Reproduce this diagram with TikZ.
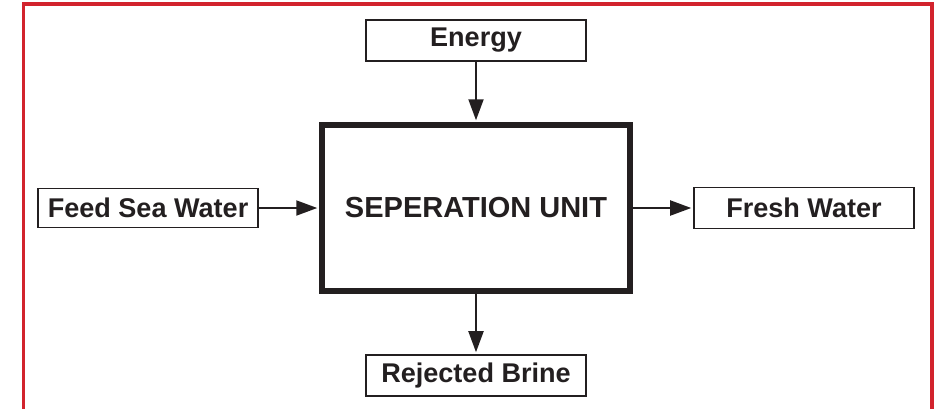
\documentclass[tikz,border=0pt]{standalone}
\usepackage{fontspec}
\setmainfont{Liberation Sans}
\usepackage{xcolor}
\usepackage{tikz}
\usetikzlibrary{arrows.meta,positioning}
\definecolor{ink}{HTML}{231F20}
\definecolor{framered}{HTML}{D2232D}
\tikzset{
  flowbox/.style={
    draw=ink,
    line width=1.1pt,
    fill=white,
    minimum width=4.4cm,
    minimum height=0.82cm,
    inner sep=0pt,
    align=center,
    text=ink,
    font=\bfseries\fontsize{15.4}{18}\selectfont
  },
  unitbox/.style={
    draw=ink,
    line width=3.4pt,
    fill=white,
    minimum width=6.16cm,
    minimum height=3.32cm,
    align=center,
    text=ink,
    font=\bfseries\fontsize{16.5}{19}\selectfont
  },
  flowarrow/.style={-{Triangle[length=0.42cm,width=0.3cm]}, line width=1.1pt, draw=ink, shorten >=1pt},
  frameline/.style={draw=framered, line width=1.8pt}
}

\begin{document}
\begin{tikzpicture}[node distance=1.2cm and 1.2cm]
  \useasboundingbox (0,0) rectangle (18.68,-8.16);

  \draw[frameline] (0.47,-8.3) |- (18.64,-0.08) -- (18.64,-8.3);

  \node[unitbox] (unit) at (9.52,-4.16) {SEPERATION UNIT};

  \node[flowbox, above=of unit] (energy) {Energy};
  \node[flowbox, below=of unit] (brine) {Rejected Brine};
  \node[flowbox, left=of unit, minimum height=0.78cm] (feed) {Feed Sea Water};
  \node[flowbox, right=of unit] (fresh) {Fresh Water};

  \draw[flowarrow] (energy) -- (unit);
  \draw[flowarrow] (feed) -- (unit);
  \draw[flowarrow] (unit) -- (fresh);
  \draw[flowarrow] (unit) -- (brine);
\end{tikzpicture}
\end{document}
